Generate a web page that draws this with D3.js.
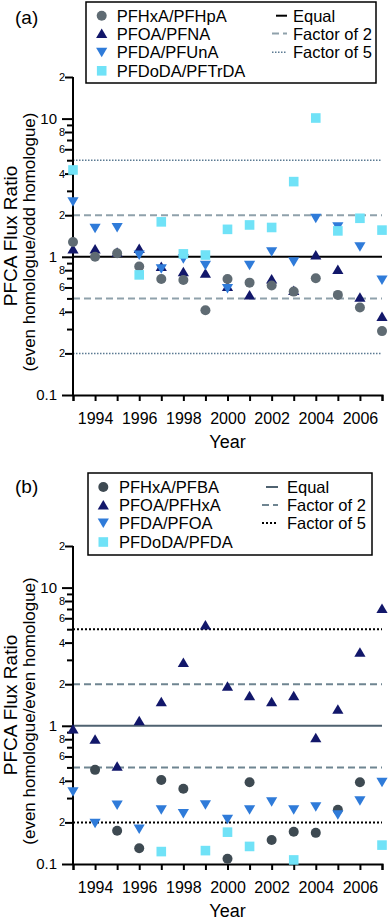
<!DOCTYPE html>
<html>
<head>
<meta charset="utf-8">
<script src="https://cdn.jsdelivr.net/npm/d3@7"></script>
<style>
  body { margin: 0; background: #fff; }
  svg { display: block; font-family: "Liberation Sans", Arial, sans-serif; }
</style>
</head>
<body>
<div id="chart"></div>
<script>
// data
var years = [1993, 1994, 1995, 1996, 1997, 1998, 1999, 2000, 2001, 2002, 2003, 2004, 2005, 2006, 2007];
var yearLabels = [1994, 1996, 1998, 2000, 2002, 2004, 2006];

// panel (a): even homologue / odd homologue
var pfhxa_pfhpa = [1.28, 1.0, 1.06, 0.85, 0.69, 0.68, 0.41, 0.69, 0.65, 0.62, 0.56, 0.70, 0.53, 0.43, 0.29];
var pfoa_pfna = [1.14, 1.14, 1.08, 1.15, 0.85, 0.78, 0.76, 0.61, 0.53, 0.69, 0.57, 1.03, 0.81, 0.51, 0.37];
var pfda_pfuna = [2.5, 1.61, 1.63, 1.03, 0.82, 0.97, 0.87, 0.59, 0.87, 1.09, 0.92, 1.90, 1.65, 1.18, 0.68];
var pfdoda_pftrda = [4.25, null, null, 0.74, 1.79, 1.05, 1.03, 1.58, 1.70, 1.63, 3.5, 10.1, 1.54, 1.90, 1.56];

// panel (b): even homologue / even homologue
var pfhxa_pfba = [null, 0.48, 0.174, 0.13, 0.405, 0.35, null, 0.109, 0.39, 0.149, 0.171, 0.168, 0.247, 0.39, null];
var pfoa_pfhxa = [0.95, 0.80, 0.51, 1.09, 1.49, 2.87, 5.37, 1.93, 1.65, 1.49, 1.65, 0.82, 1.32, 3.4, 7.06];
var pfda_pfoa = [0.333, 0.197, 0.267, 0.179, 0.247, 0.232, 0.268, 0.211, 0.247, 0.282, 0.247, 0.26, 0.227, 0.287, 0.39];
var pfdoda_pfda = [null, null, null, null, 0.123, null, 0.125, 0.17, 0.134, null, 0.107, null, null, null, 0.137];

var yTicks = [0.1, 0.2, 0.3, 0.4, 0.5, 0.6, 0.7, 0.8, 0.9, 1, 2, 3, 4, 5, 6, 7, 8, 9, 10, 20];
var yTickText = {0.1: "0.1", 0.2: "2", 0.4: "4", 0.6: "6", 0.8: "8", 1: "1", 2: "2", 4: "4", 6: "6", 8: "8", 10: "10", 20: "2"};
var refLines = [
  {name: "Equal", v: [1]},
  {name: "Factor of 2", v: [0.5, 2]},
  {name: "Factor of 5", v: [0.2, 5]}
];

var width = 392, height = 923;
var svg = d3.select("#chart").append("svg").attr("width", width).attr("height", height);

var xScale = d3.scaleLinear().domain([1993, 2007]).range([73, 382]);

var panels = [
  {
    tag: "(a)", top: 0,
    names: ["PFHxA/PFHpA", "PFOA/PFNA", "PFDA/PFUnA", "PFDoDA/PFTrDA"],
    series: [pfhxa_pfhpa, pfoa_pfna, pfda_pfuna, pfdoda_pftrda],
    circle: "#5f6b73",
    lines: [{c: "#000", w: 2, dash: null}, {c: "#8fa1ab", w: 2, dash: "7,4"}, {c: "#5b7a92", w: 1.5, dash: "1.5,1.5"}],
    subtitle: "(even homologue/odd homologue)",
    legend: {x: 86, y: 2, w: 290, h: 81, mx: 101.7, tx: 116.7, rows: [15.7, 33.6, 52.2, 70.8], lx0: 272, lx1: 287, rtx: 293}
  },
  {
    tag: "(b)", top: 469,
    names: ["PFHxA/PFBA", "PFOA/PFHxA", "PFDA/PFOA", "PFDoDA/PFDA"],
    series: [pfhxa_pfba, pfoa_pfhxa, pfda_pfoa, pfdoda_pfda],
    circle: "#3e4a52",
    lines: [{c: "#4f6270", w: 2, dash: null}, {c: "#6f8591", w: 2, dash: "7,4"}, {c: "#000", w: 2, dash: "2,2"}],
    subtitle: "(even homologue/even homologue)",
    legend: {x: 88, y: 4, w: 284, h: 82, mx: 103.3, tx: 119, rows: [18, 36, 54, 73], lx0: 262, lx1: 278, rtx: 287}
  }
];

var triUp = "M0,-5L5.6,4.5L-5.6,4.5Z";
var triDown = "M0,5L5.6,-4.5L-5.6,-4.5Z";
var colors = {up: "#12176a", down: "#2f7bd9", square: "#70e2f7"};

function markerPath(kind, sel, color) {
  if (kind === 0) return sel.append("circle").attr("r", 5).attr("fill", color);
  if (kind === 1) return sel.append("path").attr("d", triUp).attr("fill", colors.up);
  if (kind === 2) return sel.append("path").attr("d", triDown).attr("fill", colors.down);
  return sel.append("rect").attr("x", -4.8).attr("y", -4.8).attr("width", 9.6).attr("height", 9.6).attr("fill", colors.square);
}

panels.forEach(function(p) {
  var g = svg.append("g").attr("transform", "translate(0," + p.top + ")");
  var yScale = d3.scaleLog().domain([0.1, 20]).range([395, 77]);

  // reference lines
  refLines.forEach(function(r, i) {
    r.v.forEach(function(v) {
      g.append("line")
        .attr("x1", xScale(1993)).attr("x2", xScale(2007))
        .attr("y1", yScale(v)).attr("y2", yScale(v))
        .attr("stroke", p.lines[i].c)
        .attr("stroke-width", p.lines[i].w)
        .attr("stroke-dasharray", p.lines[i].dash);
    });
  });

  // y axis
  var yAxis = g.append("g").attr("transform", "translate(" + xScale(1993) + ",0)")
    .call(d3.axisLeft(yScale).tickValues(yTicks).tickSizeOuter(0)
      .tickFormat(function(d) { return yTickText[d] || ""; }));
  yAxis.select(".domain").attr("stroke-width", 2).attr("d", "M0," + yScale(20) + "V" + yScale(0.1));
  yAxis.selectAll(".tick line").attr("stroke-width", 2)
    .attr("x2", function(d) { return (d === 0.1 || d === 1 || d === 10) ? -11 : (yTickText[d] ? -8 : -6); });
  yAxis.selectAll(".tick text")
    .attr("x", function(d) { return (d === 0.1 || d === 1 || d === 10) ? -16 : -8; })
    .style("font-size", function(d) { return (d === 0.1 || d === 1 || d === 10) ? "15px" : "11px"; })
    .style("font-family", "'Liberation Sans', Arial, sans-serif")
    .attr("fill", "#000");

  // x axis
  var xAxis = g.append("g").attr("transform", "translate(0," + yScale(0.1) + ")")
    .call(d3.axisBottom(xScale).tickValues(years).tickSizeOuter(0)
      .tickFormat(function(d) { return yearLabels.indexOf(d) >= 0 ? d : ""; }).tickSize(6).tickPadding(12));
  xAxis.select(".domain").attr("stroke-width", 2);
  xAxis.selectAll(".tick line").attr("stroke-width", 2);
  xAxis.selectAll(".tick text").style("font-size", "16px")
    .style("font-family", "'Liberation Sans', Arial, sans-serif").attr("fill", "#000");

  // markers: up triangles, circles, down triangles, squares
  [1, 0, 2, 3].forEach(function(k) {
    var pts = years.map(function(y, i) { return {year: y, v: p.series[k][i]}; })
      .filter(function(d) { return d.v != null; });
    var mg = g.append("g");
    pts.forEach(function(d) {
      var s = mg.append("g").attr("transform", "translate(" + xScale(d.year) + "," + yScale(d.v) + ")");
      markerPath(k, s, p.circle);
    });
  });

  // titles
  g.append("text").attr("x", 15).attr("y", 24).style("font-size", "19px").text(p.tag);
  g.append("text").attr("transform", "translate(17,236) rotate(-90)").attr("text-anchor", "middle")
    .style("font-size", "19px").text("PFCA Flux Ratio");
  g.append("text").attr("transform", "translate(35,242) rotate(-90)").attr("text-anchor", "middle")
    .style("font-size", "17px").text(p.subtitle);
  g.append("text").attr("x", (xScale(1993) + xScale(2007)) / 2).attr("y", 448).attr("text-anchor", "middle")
    .style("font-size", "18px").text("Year");

  // legend
  var L = p.legend;
  var lg = g.append("g");
  lg.append("rect").attr("x", L.x).attr("y", L.y).attr("width", L.w).attr("height", L.h)
    .attr("fill", "#fff").attr("stroke", "#000").attr("stroke-width", 1.5);
  p.names.forEach(function(n, i) {
    var s = lg.append("g").attr("transform", "translate(" + L.mx + "," + L.rows[i] + ")");
    markerPath(i, s, p.circle);
    lg.append("text").attr("x", L.tx).attr("y", L.rows[i]).attr("dy", "0.36em")
      .style("font-size", "16.5px").text(n);
  });
  refLines.forEach(function(r, i) {
    lg.append("line").attr("x1", i === 0 ? L.lx0 + 4 : L.lx0).attr("x2", L.lx1)
      .attr("y1", L.rows[i]).attr("y2", L.rows[i])
      .attr("stroke", p.lines[i].c).attr("stroke-width", p.lines[i].w)
      .attr("stroke-dasharray", p.lines[i].dash);
    lg.append("text").attr("x", L.rtx).attr("y", L.rows[i]).attr("dy", "0.36em")
      .style("font-size", "16.5px").text(r.name);
  });
});
</script>
</body>
</html>
